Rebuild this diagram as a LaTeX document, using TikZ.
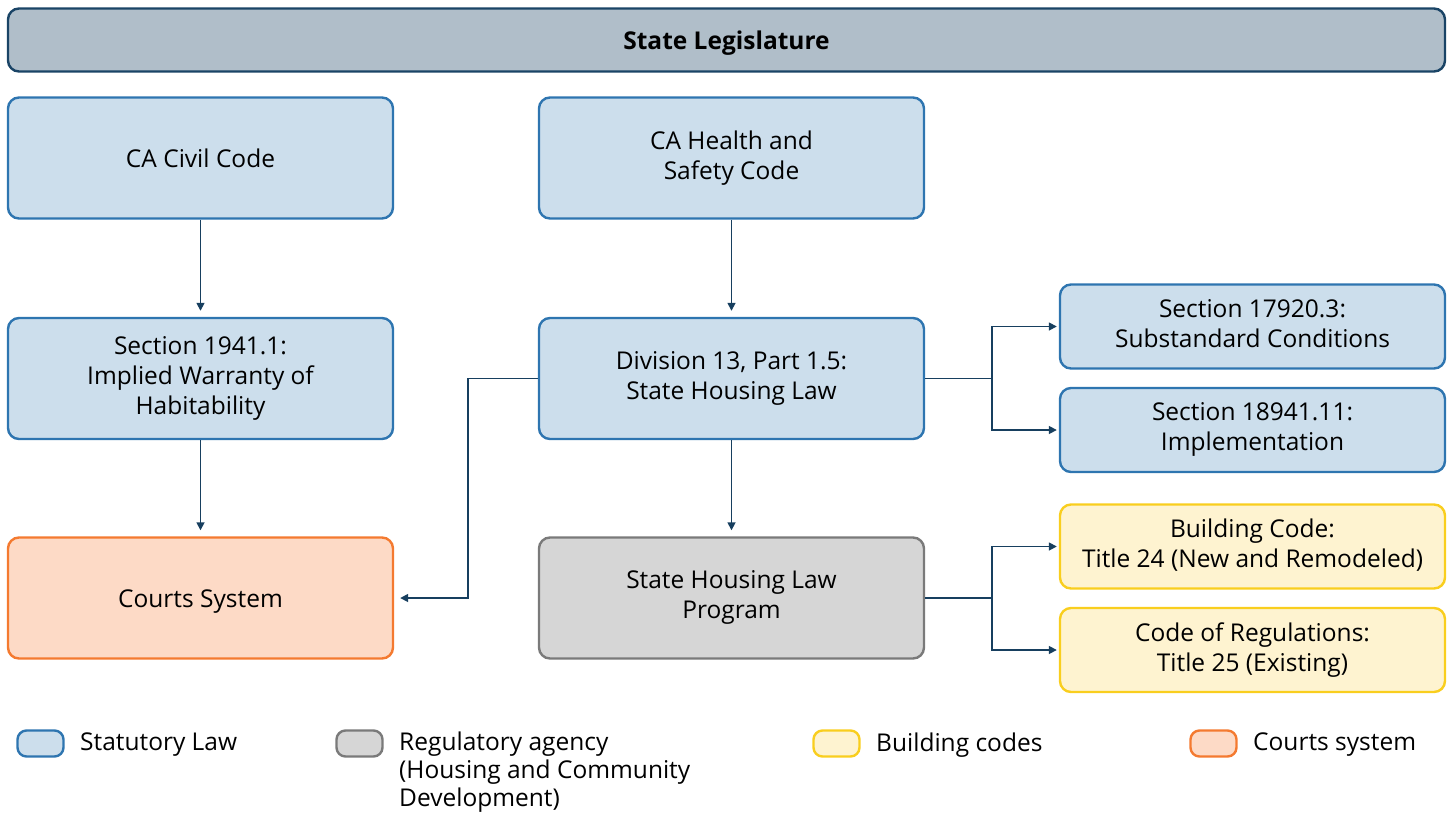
\documentclass[tikz,border=0pt]{standalone}
\usepackage{fontspec}
\setmainfont{Open Sans}
\usepackage{xcolor}
\usetikzlibrary{arrows.meta}
\definecolor{legfill}{HTML}{B0BEC9}
\definecolor{legdraw}{HTML}{1A4466}
\definecolor{lawfill}{HTML}{CCDEEC}
\definecolor{lawdraw}{HTML}{2E75B0}
\definecolor{agfill}{HTML}{D6D6D6}
\definecolor{agdraw}{HTML}{7A7A7A}
\definecolor{codefill}{HTML}{FEF3D0}
\definecolor{codedraw}{HTML}{F9CE1E}
\definecolor{courtfill}{HTML}{FDDAC6}
\definecolor{courtdraw}{HTML}{F47A30}
\definecolor{linkcol}{HTML}{173F5F}
\newcommand{\boxstrut}{\rule[-6.5pt]{0pt}{32pt}}
\tikzstyle{arrow} = [line width=1.6pt, draw=linkcol, -{Triangle[length=8pt,width=8pt]}, shorten >=6pt]
\tikzset{box/.style={rounded corners=11pt, line width=2.4pt, align=center, inner sep=0pt,
    font=\fontsize{24.5}{30}\selectfont,
    execute at begin node=\boxstrut, execute at end node=\boxstrut},
  law/.style={box, fill=lawfill, draw=lawdraw},
  agency/.style={box, fill=agfill, draw=agdraw},
  bcode/.style={box, fill=codefill, draw=codedraw},
  court/.style={box, fill=courtfill, draw=courtdraw},
  big/.style={minimum width=385pt, minimum height=121pt},
  small/.style={minimum width=385pt, minimum height=84pt},
  swatch/.style={rounded corners=9pt, line width=2.4pt, minimum width=46pt, minimum height=26pt, inner sep=0pt},
  legtext/.style={anchor=west, align=left, inner sep=0pt, font=\fontsize{24.5}{28}\selectfont}}

\begin{document}
\begin{tikzpicture}[x=1pt,y=-1pt]
            \useasboundingbox (0,0) rectangle (1450,814);
            % Draw the legislature bar
            \node[box, fill=legfill, draw=legdraw, minimum width=1437pt, minimum height=63pt,
              font=\fontsize{24.5}{30}\selectfont\bfseries] (legis) at (726.5,40) {State Legislature};

            % Draw the statutory codes
            \node[law, big] (civil) at (200.5,158) {CA Civil Code};
            \node[law, big] (health) at (731.5,158) {CA Health and\\Safety Code};
            \node[law, big] (sec1941) at (200.5,378.5) {Section 1941.1:\\Implied Warranty of\\Habitability};
            \node[law, big] (div13) at (731.5,378.5) {Division 13, Part 1.5:\\State Housing Law};
            \node[law, small] (sec17920) at (1252.5,326.5) {Section 17920.3:\\Substandard Conditions};
            \node[law, small] (sec18941) at (1252.5,430) {Section 18941.11:\\Implementation};

            % Draw the courts, agency and building codes
            \node[court, big] (courts) at (200.5,598) {Courts System};
            \node[agency, big] (program) at (731.5,598) {State Housing Law\\Program};
            \node[bcode, small] (title24) at (1252.5,546.5) {Building Code:\\Title 24 (New and Remodeled)};
            \node[bcode, small] (title25) at (1252.5,650) {Code of Regulations:\\Title 25 (Existing)};

            % Draw the connectors
            \draw[arrow] (civil) -- (sec1941);
            \draw[arrow] (sec1941) -- (courts);
            \draw[arrow] (health) -- (div13);
            \draw[arrow] (div13) -- (program);
            \draw[arrow] (div13.west) -- ++(-70,0) |- (courts.east);
            \draw[line width=1.6pt, draw=linkcol] (div13.east) -- ++(67,0) coordinate (splitA);
            \draw[arrow, shorten >=2pt] (splitA) |- (sec17920.west);
            \draw[arrow, shorten >=2pt] (splitA) |- (sec18941.west);
            \draw[line width=1.6pt, draw=linkcol] (program.east) -- ++(67,0) coordinate (splitB);
            \draw[arrow, shorten >=2pt] (splitB) |- (title24.west);
            \draw[arrow, shorten >=2pt] (splitB) |- (title25.west);

            % Draw the legend
            \node[swatch, fill=lawfill, draw=lawdraw] (keylaw) at (40.5,743.5) {};
            \node[legtext] at (80,745) {Statutory Law};
            \node[swatch, fill=agfill, draw=agdraw] (keyagency) at (359.5,743.5) {};
            \node[legtext, anchor=north west] at (399,732) {Regulatory agency\\(Housing and Community\\Development)};
            \node[swatch, fill=codefill, draw=codedraw] (keycode) at (836.5,743.5) {};
            \node[legtext] at (876,745) {Building codes};
            \node[swatch, fill=courtfill, draw=courtdraw] (keycourt) at (1213.5,743.5) {};
            \node[legtext] at (1253,745) {Courts system};
        \end{tikzpicture}
\end{document}
